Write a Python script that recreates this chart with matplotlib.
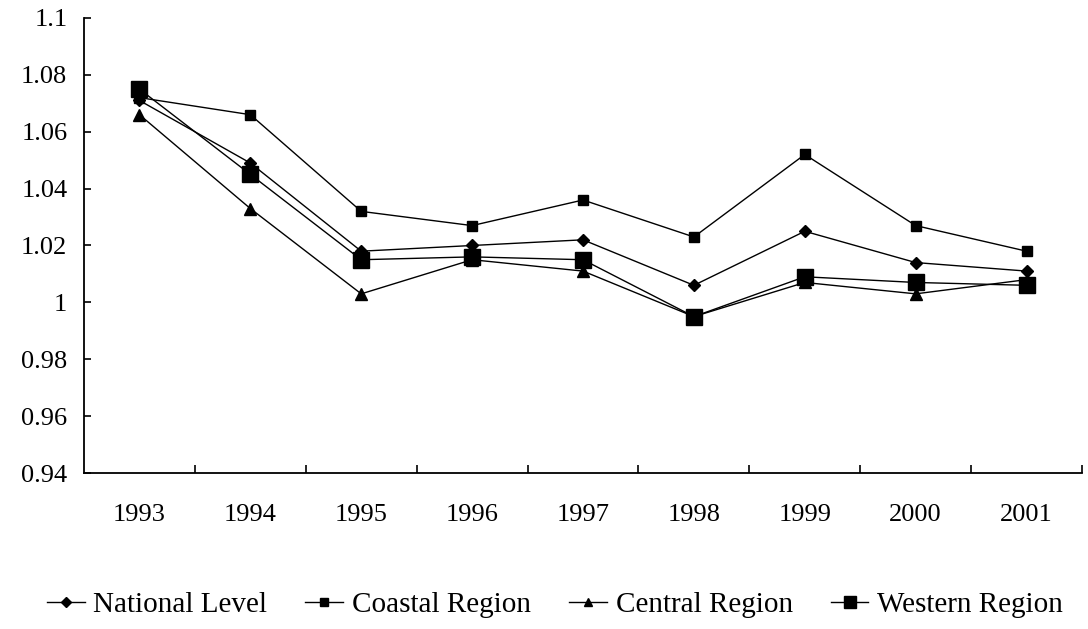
import matplotlib
matplotlib.use("Agg")
import matplotlib.pyplot as plt

plt.rcParams['font.family'] = ['Liberation Serif', 'DejaVu Serif']

years = ['1993', '1994', '1995', '1996', '1997', '1998', '1999', '2000', '2001']
national = [1.071, 1.049, 1.018, 1.020, 1.022, 1.006, 1.025, 1.014, 1.011]
coastal = [1.072, 1.066, 1.032, 1.027, 1.036, 1.023, 1.052, 1.027, 1.018]
central = [1.066, 1.033, 1.003, 1.015, 1.011, 0.995, 1.007, 1.003, 1.008]
western = [1.075, 1.045, 1.015, 1.016, 1.015, 0.995, 1.009, 1.007, 1.006]

fig = plt.figure(figsize=(10.88, 6.29), dpi=100)
ax = fig.add_axes([0.0772, 0.248, 0.9173, 0.7234])

x = range(len(years))
ax.plot(x, national, color='black', lw=1, marker='D', ms=6, label='National Level')
ax.plot(x, coastal, color='black', lw=1, marker='s', ms=7, label='Coastal Region')
ax.plot(x, central, color='black', lw=1, marker='^', ms=8, label='Central Region')
ax.plot(x, western, color='black', lw=1, marker='s', ms=11, label='Western Region')

ax.set_xlim(-0.5, len(years) - 0.5)
ax.set_ylim(0.94, 1.1)
ax.set_yticks([0.94, 0.96, 0.98, 1.0, 1.02, 1.04, 1.06, 1.08, 1.1])
ax.set_yticklabels(['0.94', '0.96', '0.98', '1', '1.02', '1.04', '1.06', '1.08', '1.1'])
ax.set_xticks(list(x))
ax.set_xticklabels(years)
ax.tick_params(axis='x', length=0, pad=22, labelsize=19)
ax.set_xticks([i + 0.5 for i in x], minor=True)
ax.tick_params(axis='x', which='minor', direction='in', length=6, width=1.2)
ax.tick_params(axis='y', direction='in', length=5, width=1.2, pad=12, labelsize=19)

for s in ['top', 'right']:
    ax.spines[s].set_visible(False)
for s in ['left', 'bottom']:
    ax.spines[s].set_linewidth(1.3)

# smaller markers inside the legend, like the original
leg = fig.legend(loc='lower center', bbox_to_anchor=(0.51, -0.025), ncol=4, frameon=False,
                 fontsize=21, handlelength=1.3, handletextpad=0.3, columnspacing=1.3,
                 markerscale=0.8)

fig.savefig('out.png', dpi=100)
